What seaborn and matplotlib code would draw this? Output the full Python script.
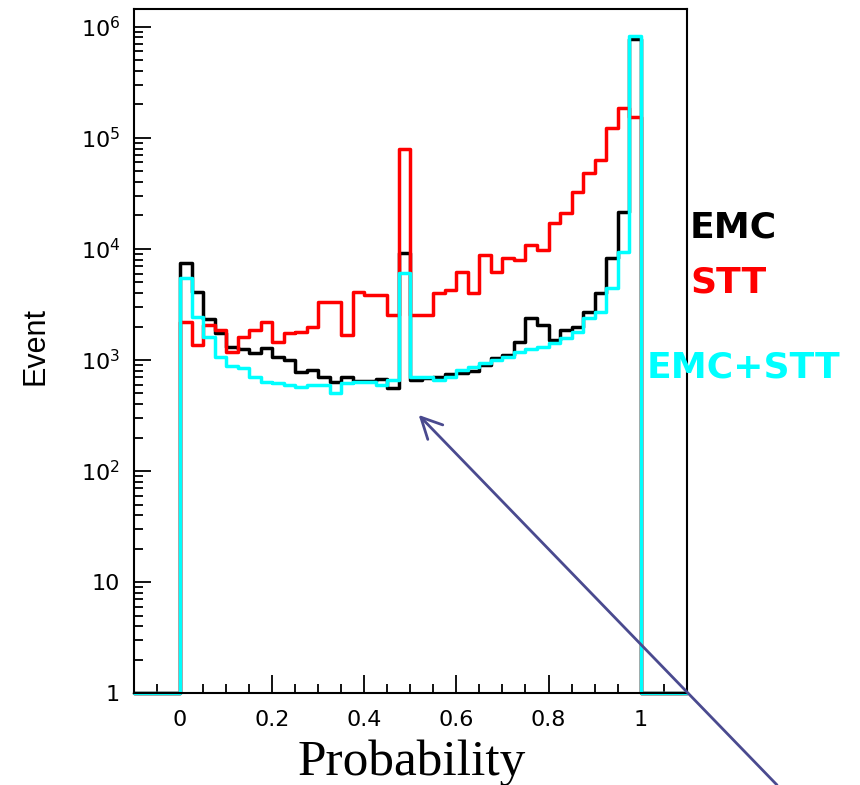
import numpy as np
import pandas as pd
import matplotlib
matplotlib.use("Agg")
import matplotlib.pyplot as plt
import seaborn as sns
from matplotlib.patches import ConnectionPatch
from matplotlib.ticker import FixedLocator, MultipleLocator, LogLocator, FuncFormatter, NullFormatter

# ---------------- data (40 bins of width 0.025 on [0, 1]) ----------------
bin_width = 0.025
hist_range = (-0.1, 1.1)
data_range = (0.0, 1.0)

emc = [7420, 4120, 2320, 1745, 1318, 1250, 1150, 1290, 1072, 1000,
       785, 813, 708, 638, 708, 650, 650, 680, 556, 9200,
       661, 690, 700, 750, 760, 790, 900, 1035, 1110, 1460,
       2370, 2065, 1514, 1860, 2000, 2720, 3980, 8220, 21600, 770000]

stt = [2210, 1360, 2070, 1860, 1190, 1620, 1860, 2210, 1460, 1740,
       1800, 2000, 3350, 3350, 1680, 4120, 3850, 3850, 2540, 78800,
       2540, 2540, 3980, 4270, 6240, 3980, 8810, 6240, 8220, 7940,
       10840, 9770, 17000, 20900, 32700, 47900, 63100, 121600, 184500, 155000]

emc_stt = [5430, 2455, 1622, 1072, 880, 842, 708, 630, 617, 597,
           577, 597, 597, 501, 617, 638, 638, 597, 661, 6110,
           700, 708, 661, 708, 813, 860, 933, 1000, 1072, 1188,
           1248, 1318, 1413, 1567, 1800, 2371, 2723, 4416, 9440, 820000]

series_names = ["EMC", "STT", "EMC+STT"]
series_colors = ["#000000", "#ff0000", "#00ffff"]
x_tick_values = [0, 0.2, 0.4, 0.6, 0.8, 1.0]
x_tick_labels = ["0", "0.2", "0.4", "0.6", "0.8", "1"]
y_limits = (1, 1.44e6)
arrow_tip = (0.518, 320)

# ---------------- build full histogram (-0.1 .. 1.1), empty bins at the floor ----------------
n_full = int(round((hist_range[1] - hist_range[0]) / bin_width))
edges = np.linspace(hist_range[0], hist_range[1], n_full + 1)
centers = 0.5 * (edges[:-1] + edges[1:])
offset = int(round((data_range[0] - hist_range[0]) / bin_width))


def full_counts(vals):
    out = np.zeros(n_full)
    out[offset:offset + len(vals)] = vals
    return np.where(out > 0, out, y_limits[0])  # ROOT draws empty bins at axis minimum


sns.set_style("white")
plt.rcParams["font.family"] = ["DejaVu Sans"]
plt.rcParams["mathtext.fontset"] = "dejavusans"
plt.rcParams["text.color"] = "black"

fig = plt.figure(figsize=(8.6, 7.85), dpi=100)
ax = fig.add_axes([0.1558, 0.1168, 0.6427, 0.8717])
ax.set_yscale("log")

for vals, name, col in zip([emc, stt, emc_stt], series_names, series_colors):
    df = pd.DataFrame({"prob": centers, "events": full_counts(vals)})
    sns.histplot(data=df, x="prob", weights="events", bins=list(edges),
                 element="step", fill=False, color=col, linewidth=2.5,
                 ax=ax, clip_on=False)

ax.set_xlim(*hist_range)
ax.set_ylim(*y_limits)
ax.set_xlabel("")
ax.set_ylabel("")

# ticks in ROOT style
ax.xaxis.set_major_locator(FixedLocator(x_tick_values))
ax.xaxis.set_minor_locator(MultipleLocator(0.05))
ax.set_xticklabels(x_tick_labels)
ax.yaxis.set_major_locator(LogLocator(base=10, numticks=20))
ax.yaxis.set_minor_locator(LogLocator(base=10, subs=np.arange(2, 10), numticks=20))
ax.yaxis.set_minor_formatter(NullFormatter())


def yfmt(v, pos):
    k = int(round(np.log10(v)))
    if k == 0:
        return "1"
    if k == 1:
        return "10"
    return r"$10^{%d}$" % k


ax.yaxis.set_major_formatter(FuncFormatter(yfmt))
ax.tick_params(axis="both", which="both", direction="in", top=False, right=False,
               left=True, bottom=True, colors="black", labelcolor="black", width=1.3)
ax.tick_params(axis="y", which="major", length=12.5, pad=10, labelsize=16)
ax.tick_params(axis="y", which="minor", length=6.5)
ax.tick_params(axis="x", which="major", length=13, pad=12, labelsize=16)
ax.tick_params(axis="x", which="minor", length=6.5)
for sp in ax.spines.values():
    sp.set_color("black")
    sp.set_linewidth(1.5)

# axis titles
fig.text(412 / 860, 1 - 775 / 785, "Probability", family="Liberation Serif",
         fontsize=37, color="black", ha="center", va="baseline")
fig.text(36 / 860, 1 - 346 / 785, "Event", family="Liberation Sans",
         fontsize=22, color="black", rotation=90, ha="center", va="center")

# legend-like labels
fig.text(690 / 860, 1 - 228 / 785, "EMC", color=series_colors[0], fontsize=26,
         fontweight="bold", ha="left", va="center")
fig.text(690 / 860, 1 - 283 / 785, "STT", color=series_colors[1], fontsize=26,
         fontweight="bold", ha="left", va="center")
fig.text(743 / 860, 1 - 368 / 785, "EMC+STT", color=series_colors[2], fontsize=26,
         fontweight="bold", ha="center", va="center")

# annotation arrow (no text attached)
arrow = ConnectionPatch(xyA=(0.9035, 0.0), coordsA="figure fraction",
                        xyB=arrow_tip, coordsB="data", axesB=ax,
                        arrowstyle="->,head_length=0.6,head_width=0.3",
                        color="#4a4a8f", lw=2.0, mutation_scale=25,
                        shrinkA=0, shrinkB=0, clip_on=False)
fig.add_artist(arrow)

fig.savefig("out.png", dpi=100)
